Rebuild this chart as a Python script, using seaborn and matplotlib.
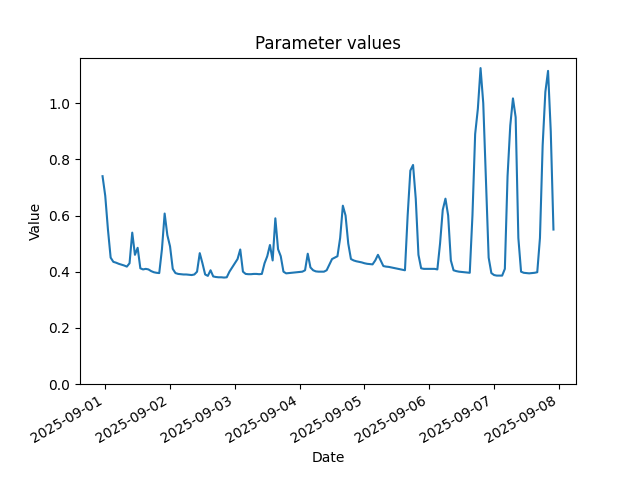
import matplotlib
matplotlib.use("Agg")
import matplotlib.pyplot as plt
import seaborn as sns
import pandas as pd

# hourly readings, 2025-08-31 23:00 .. 2025-09-07 22:00
start = "2025-08-31 23:00"

day1 = [0.74, 0.67, 0.55, 0.45, 0.435, 0.432, 0.428, 0.425, 0.422, 0.418,
        0.43, 0.539, 0.46, 0.485, 0.412, 0.408, 0.41, 0.408, 0.402, 0.398,
        0.396, 0.395, 0.48, 0.607]
day2 = [0.53, 0.49, 0.41, 0.395, 0.392, 0.391, 0.39, 0.39, 0.389, 0.388,
        0.39, 0.40, 0.466, 0.43, 0.39, 0.385, 0.405, 0.383, 0.381, 0.38,
        0.38, 0.379, 0.38, 0.40]
day3 = [0.415, 0.43, 0.445, 0.479, 0.40, 0.392, 0.391, 0.391, 0.392, 0.392,
        0.391, 0.392, 0.43, 0.455, 0.495, 0.44, 0.59, 0.48, 0.455, 0.40,
        0.394, 0.395, 0.396, 0.397]
day4 = [0.398, 0.399, 0.40, 0.405, 0.464, 0.415, 0.405, 0.401, 0.40, 0.40,
        0.40, 0.405, 0.425, 0.445, 0.45, 0.455, 0.52, 0.635, 0.60, 0.50,
        0.445, 0.44, 0.437, 0.435]
day5 = [0.433, 0.43, 0.428, 0.427, 0.426, 0.44, 0.46, 0.44, 0.42, 0.418,
        0.417, 0.415, 0.413, 0.411, 0.409, 0.407, 0.405, 0.60, 0.76, 0.78,
        0.66, 0.46, 0.412, 0.41]
day6 = [0.41, 0.41, 0.41, 0.41, 0.408, 0.50, 0.62, 0.66, 0.60, 0.44,
        0.405, 0.402, 0.40, 0.399, 0.398, 0.397, 0.396, 0.60, 0.89, 0.98,
        1.125, 1.00, 0.72, 0.45]
day7 = [0.395, 0.388, 0.386, 0.386, 0.386, 0.41, 0.74, 0.92, 1.017, 0.95,
        0.52, 0.40, 0.396, 0.395, 0.394, 0.395, 0.396, 0.398, 0.52, 0.85,
        1.04, 1.115, 0.90, 0.55]

values = day1 + day2 + day3 + day4 + day5 + day6 + day7
dates = pd.date_range(start, periods=len(values), freq="h")

df = pd.DataFrame({"Date": dates, "Value": values})

fig, ax = plt.subplots(figsize=(6.4, 4.8), dpi=100)
sns.lineplot(data=df, x="Date", y="Value", ax=ax, color="#1f77b4", linewidth=1.5)

ax.set_ylim(bottom=0)
ax.set_title("Parameter values")
ax.set_xlabel("Date")
ax.set_ylabel("Value")
fig.autofmt_xdate()

fig.savefig("out.png", dpi=100)
